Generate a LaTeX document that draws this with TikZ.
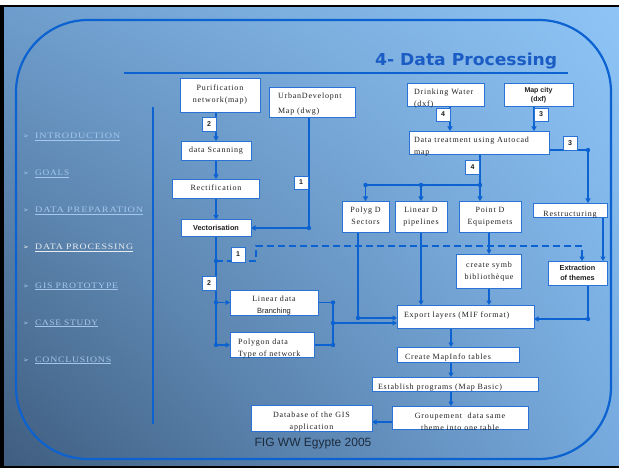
\documentclass[tikz,border=0pt]{standalone}
\usepackage{fontspec}
\setmainfont{Liberation Serif}
\newfontfamily\bxf[LetterSpace=10]{Liberation Serif}
\newfontfamily\sansf{Liberation Sans}
\newfontfamily\ttlf{DejaVu Sans}
\newfontfamily\mnf[LetterSpace=8]{Liberation Serif}
\newfontfamily\dvf{DejaVu Sans}
\usetikzlibrary{arrows.meta,shadings}
\definecolor{lineblue}{HTML}{0B62D0}
\definecolor{boxblue}{HTML}{2A72D4}
\definecolor{titleblue}{HTML}{1A5CC4}
\definecolor{menublue}{HTML}{A6C6EC}
\definecolor{menucur}{HTML}{E6ECF2}
\definecolor{txtgray}{HTML}{202020}
\definecolor{figtxt}{HTML}{1C2B3D}
\definecolor{bgUL}{HTML}{6E9DCC}
\definecolor{bgUR}{HTML}{8EC4F6}
\definecolor{bgLL}{HTML}{3F5D7F}
\definecolor{bgLR}{HTML}{76AADE}
\newcommand{\cntx}[2]{\makebox[0pt][c]{\raisebox{-#1pt}[0pt][0pt]{\begin{tabular}{@{}c@{}}#2\end{tabular}}}}
\newcommand{\lftx}[3]{\makebox[0pt][l]{\hspace*{#1pt}\raisebox{-#2pt}[0pt][0pt]{\begin{tabular}{@{}l@{}}#3\end{tabular}}}}
\pgfdeclarelayer{back}
\pgfdeclarelayer{lines}
\pgfsetlayers{back,lines,main}
\begin{document}
\begin{tikzpicture}[x=1pt,y=-1pt,
  box/.style={draw=boxblue, line width=0.8pt, fill=white, inner sep=0pt, outer sep=0pt, text=txtgray,
    font=\bxf\fontsize{8}{12}\selectfont},
  sbold/.style={font=\sansf\bfseries\fontsize{7.3}{10}\selectfont},
  num/.style={box, minimum width=14pt, minimum height=13pt, font=\sansf\bfseries\fontsize{7}{8}\selectfont},
  conn/.style={draw=lineblue, line width=1.5pt},
  arr/.style={conn, -{Triangle[length=4.5pt,width=5pt]}},
  jdot/.style={fill=lineblue}
]
\useasboundingbox (0,0) rectangle (619,468);
\begin{pgfonlayer}{back}
\fill[white] (0,0) rectangle (619,468);
\fill[black] (0,5) rectangle (619,468);
\shade[upper left=bgUL, upper right=bgUR, lower left=bgLL, lower right=bgLR] (4,8) rectangle (619,465);
\draw[lineblue, line width=2.2pt, rounded corners=72pt] (16,20) rectangle (611,459);
\draw[lineblue, line width=1.5pt] (124,73) -- (568,73);
\draw[lineblue, line width=1.3pt] (153,107) -- (153,424);
\end{pgfonlayer}

% title
\node[anchor=base west, inner sep=0pt, text=titleblue] (title) at (375,66)
  {\resizebox{182pt}{12.5pt}{\ttlf\bfseries 4- Data Processing}};

% menu
\foreach \yy/\ww/\mt/\cc/\nn in {139/85/INTRODUCTION/menublue/m1, 176/34/GOALS/menublue/m2,
   213/108/DATA PREPARATION/menublue/m3, 250/98/DATA PROCESSING/menucur/m4,
   288/83/GIS PROTOTYPE/menublue/m5, 325/63/CASE STUDY/menublue/m6, 362/76/CONCLUSIONS/menublue/m7}{
  \node[anchor=base west, inner sep=0pt, text=\cc] (\nn) at (35,\yy) {\resizebox{\ww pt}{5.5pt}{\mnf \mt}};
  \draw[\cc, line width=0.6pt] ([yshift=-1.6pt]\nn.base west) -- ([yshift=-1.6pt]\nn.base east);
  \node[anchor=base, inner sep=0pt, text=\cc, font=\dvf\fontsize{7}{8}\selectfont] (\nn m) at (26,\yy) {➢};
}

% boxes
\node[box, minimum width=80pt, minimum height=34pt] (pur) at (220,95) {\cntx{1.1}{Purification\\network(map)}};
\node[box, minimum width=86pt, minimum height=30pt] (urb) at (312,102) {\lftx{-34}{4.1}{UrbanDevelopnt\\[3pt]Map (dwg)}};
\node[box, minimum width=70pt, minimum height=19pt] (scan) at (216,150.5) {\cntx{1.6}{data Scanning}};
\node[box, minimum width=87pt, minimum height=19pt] (rect) at (216,188.5) {\cntx{1.6}{Rectification}};
\node[box, sbold, minimum width=70pt, minimum height=17pt] (vec) at (216,228) {\cntx{1.8}{Vectorisation}};
\node[box, minimum width=77pt, minimum height=23pt] (dw) at (445.5,94.5) {\lftx{-31.5}{6.1}{Drinking Water\\(dxf)}};
\node[box, minimum width=69pt, minimum height=23pt, font=\sansf\bfseries\fontsize{7}{9}\selectfont] (mc) at (538.5,94.5) {\cntx{2.7}{Map city\\(dxf)}};
\node[box, minimum width=140pt, minimum height=23pt] (dt) at (479,142.5) {\lftx{-65}{6.1}{Data treatment using Autocad\\map}};
\node[box, minimum width=47pt, minimum height=31pt] (polyg) at (365.5,216.5) {\cntx{2.1}{Polyg D\\Sectors}};
\node[box, minimum width=52pt, minimum height=31pt] (lin) at (421,216.5) {\cntx{2.1}{Linear D\\pipelines}};
\node[box, minimum width=62pt, minimum height=31pt] (pt) at (490,216.5) {\cntx{2.1}{Point D\\Equipemets}};
\node[box, minimum width=74pt, minimum height=14pt] (restr) at (570,210) {\cntx{5.6}{Restructuring}};
\node[box, minimum width=65pt, minimum height=34pt] (cs) at (489,271) {\cntx{2.1}{create symb\\bibliothèque}};
\node[box, sbold, minimum width=59pt, minimum height=24pt] (ext) at (577.5,273) {\cntx{2.6}{Extraction\\of themes}};
\node[box, minimum width=88pt, minimum height=25pt] (ld) at (274,302.5) {\cntx{4.6}{Linear data\\{\sansf\fontsize{7.5}{12}\selectfont Branching}}};
\node[box, minimum width=84pt, minimum height=25pt] (pd) at (272,345) {\lftx{-34}{4.6}{Polygon data\\Type of network}};
\node[box, minimum width=137pt, minimum height=23pt] (exp) at (465.5,316.5) {\lftx{-61.5}{0.1}{Export layers (MIF format)}};
\node[box, minimum width=122pt, minimum height=15pt] (cmt) at (458,354.5) {\lftx{-53}{4.1}{Create MapInfo tables}};
\node[box, minimum width=166pt, minimum height=14pt] (est) at (455,384) {\lftx{-77}{4.6}{Establish programs (Map Basic)}};
\node[box, minimum width=136pt, minimum height=23pt] (grp) at (460,417.5) {\cntx{6.1}{Groupement\ \ data same\\theme into one table}};
\node[box, minimum width=121pt, minimum height=26pt] (db) at (311.5,418) {\cntx{4.6}{Database of the GIS\\application}};
\node[anchor=base, inner sep=0pt, text=figtxt, font=\sansf\fontsize{12}{14}\selectfont] (fig) at (313,446) {FIG WW Egypte 2005};

% number labels
\node[num, minimum height=14pt] (n2a) at (209,124) {\cntx{2.4}{2}};
\node[num] (n1a) at (301,182.5) {\cntx{2.4}{1}};
\node[num] (n4a) at (443,114.5) {\cntx{2.4}{4}};
\node[num] (n3a) at (541,114.5) {\cntx{2.4}{3}};
\node[num, minimum height=14pt] (n3b) at (570,143) {\cntx{2.4}{3}};
\node[num, minimum height=14pt] (n4b) at (472.5,167) {\cntx{2.4}{4}};
\node[num, minimum height=15pt] (n1b) at (238,254.5) {\cntx{2.4}{1}};
\node[num, minimum height=14pt] (n2b) at (209,283) {\cntx{2.4}{2}};

% connectors
\begin{pgfonlayer}{lines}
\coordinate (uj) at (309,228);
\coordinate (ds0) at (216,261);
\coordinate (ds1) at (256,261);
\coordinate (ds2) at (256,246);
\coordinate (ds3) at (582,246);
\coordinate (jx) at (333,323);
\coordinate (pj) at (358,318);
\coordinate (br) at (480,185);
\coordinate (rj) at (588,150);
\coordinate (rx) at (603,240);
\coordinate (ej) at (588,319);
\coordinate (mx) at (451,0);
\coordinate (gy) at (0,422);

\draw[arr] (scan.north |- pur.south) -- (scan.north);
\draw[arr] (scan.south) -- (rect.north);
\draw[arr] (rect.south) -- (vec.north);
\draw[arr] (uj |- urb.south) -- (uj) -- (vec.east);
\draw[conn] (vec.south) -- (vec.south |- pd.west);
\draw[arr] (vec.south |- ld.west) -- (ld.west);
\draw[arr] (vec.south |- pd.west) -- (pd.west);
\draw[arr, dash pattern=on 7pt off 4pt] (ds0) -- (ds1) -- (ds2) -- (ds3) -- (ds3 |- ext.north);
\draw[conn] (ld.east) -- (ld.east -| jx) -- (pd.east -| jx) -- (pd.east);
\draw[arr] (jx) -- (jx -| exp.west);
\draw[arr] (polyg.south -| pj) -- (pj) -- (pj -| exp.west);
\draw[arr] (lin.south) -- (lin.south |- exp.north);
\draw[arr] (pt.south -| cs.north) -- (cs.north);
\draw[arr] (cs.south) -- (cs.south |- exp.north);
\draw[conn] (dt.south -| br) -- (br) -- (br -| polyg.north);
\draw[arr] (br) -- (br |- pt.north);
\draw[arr] (br -| lin.north) -- (lin.north);
\draw[arr] (br -| polyg.north) -- (polyg.north);
\draw[arr] (n4a.east |- dw.south) -- (n4a.east |- dt.north);
\draw[arr] (n3a.west |- mc.south) -- (n3a.west |- dt.north);
\draw[conn] (dt.east |- rj) -- (rj);
\draw[arr] (rj) -- (rj |- restr.north);
\draw[arr] (restr.south -| rx) -- (ext.north -| rx);
\draw[conn] (ext.south -| ej) -- (ej);
\draw[arr] (ej) -- (ej -| exp.east);
\draw[arr] (exp.south -| mx) -- (cmt.north -| mx);
\draw[arr] (cmt.south -| mx) -- (est.north -| mx);
\draw[arr] (est.south -| mx) -- (grp.north -| mx);
\draw[arr] (grp.west |- gy) -- (db.east |- gy);

\foreach \p in {uj, ds0, jx, pj, br, rj, ej}{\fill[jdot] (\p) circle (2.2pt);}
\fill[jdot] (vec.south |- ld.west) circle (2.2pt);
\fill[jdot] (vec.south |- pd.west) circle (2.2pt);
\fill[jdot] (ld.east -| jx) circle (2.2pt);
\fill[jdot] (pd.east -| jx) circle (2.2pt);
\fill[jdot] (br -| lin.north) circle (2.2pt);
\fill[jdot] (br -| polyg.north) circle (2.2pt);
\end{pgfonlayer}
\end{tikzpicture}
\end{document}
